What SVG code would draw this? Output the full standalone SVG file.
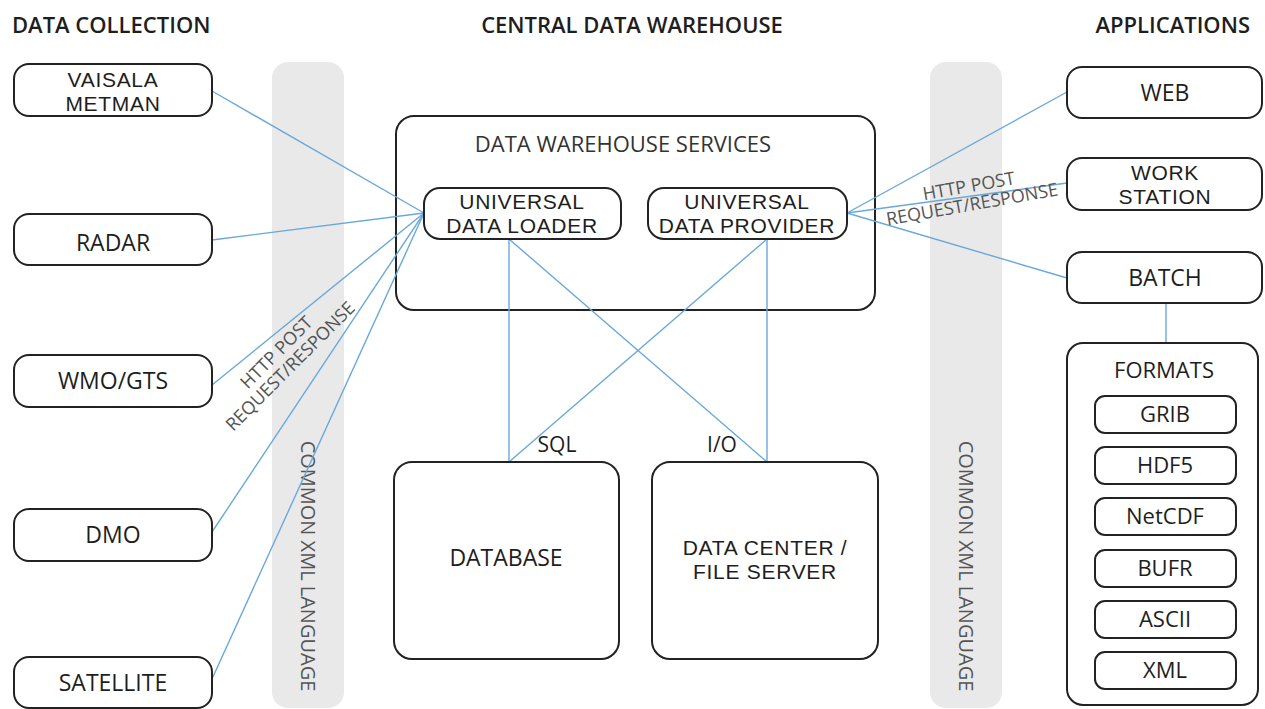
<svg xmlns="http://www.w3.org/2000/svg" width="1265" height="709" viewBox="0 0 1265 709">
<style>
text{font-family:"Open Sans","Noto Sans","Liberation Sans",sans-serif;fill:#1e1e1e}
.hdr{font-size:22px;font-weight:600}
.lbl{font-size:23px;text-anchor:middle}
.lbl2{font-family:"Liberation Sans",Arial,sans-serif;font-size:21px;letter-spacing:0.7px;text-anchor:middle}
.fmt{font-size:22px;text-anchor:middle}
.sub{font-size:18px;text-anchor:middle;fill:#555}
.band{fill:#e9e9e9}
.bandtxt{font-size:20px;text-anchor:middle;fill:#555}
.node{fill:#fff;stroke:#222;stroke-width:2}
.conn{stroke:#6aa8dc;stroke-width:1.4;fill:none}
</style>
<rect width="1265" height="709" fill="#fff"/>
<g id="headers">
<text class="hdr" x="12" y="33">DATA COLLECTION</text>
<text class="hdr" x="632" y="33" text-anchor="middle">CENTRAL DATA WAREHOUSE</text>
<text class="hdr" x="1250" y="33" text-anchor="end">APPLICATIONS</text>
</g>
<g id="xml-band-left">
<rect class="band" x="272" y="62" width="72" height="646" rx="16"/>
<text class="bandtxt" transform="translate(308,566) rotate(90)" x="0" y="7">COMMON XML LANGUAGE</text>
</g>
<g id="xml-band-right">
<rect class="band" x="930" y="62" width="72" height="646" rx="16"/>
<text class="bandtxt" transform="translate(966,566) rotate(90)" x="0" y="7">COMMON XML LANGUAGE</text>
</g>
<g id="dw-services">
<rect class="node" x="396" y="116" width="479" height="194" rx="18"/>
<text x="623" y="152" text-anchor="middle" style="font-size:22px;fill:#333">DATA WAREHOUSE SERVICES</text>
</g>
<g id="connectors">
<line class="conn" x1="212" y1="91" x2="424" y2="213"/>
<line class="conn" x1="212" y1="240" x2="424" y2="213"/>
<line class="conn" x1="212" y1="385" x2="424" y2="213"/>
<line class="conn" x1="212" y1="532" x2="424" y2="213"/>
<line class="conn" x1="212" y1="679" x2="424" y2="213"/>
<line class="conn" x1="847" y1="213" x2="1067" y2="92"/>
<line class="conn" x1="847" y1="213" x2="1067" y2="183"/>
<line class="conn" x1="847" y1="213" x2="1067" y2="278"/>
<line class="conn" x1="1166" y1="303" x2="1166" y2="343"/>
<line class="conn" x1="509" y1="239" x2="509" y2="462"/>
<line class="conn" x1="509" y1="239" x2="767" y2="462"/>
<line class="conn" x1="767" y1="239" x2="767" y2="462"/>
<line class="conn" x1="767" y1="239" x2="509" y2="462"/>
</g>
<g id="conn-labels">
<text class="sub" transform="translate(290,366) rotate(-45)"><tspan x="0" y="-13">HTTP POST</tspan><tspan x="0" y="6.5">REQUEST/RESPONSE</tspan></text>
<text class="sub" transform="translate(972,204) rotate(-10)"><tspan x="0" y="-12">HTTP POST</tspan><tspan x="0" y="6.5">REQUEST/RESPONSE</tspan></text>
<text x="557" y="452" text-anchor="middle" style="font-size:21px">SQL</text>
<text x="722" y="452" text-anchor="middle" style="font-size:21px">I/O</text>
</g>
<g id="vaisala">
<rect class="node" x="14" y="64" width="198" height="52" rx="15"/>
<text class="lbl2"><tspan x="113" y="87">VAISALA</tspan><tspan x="113" y="111">METMAN</tspan></text>
</g>
<g id="radar">
<rect class="node" x="14" y="214" width="198" height="51" rx="15"/>
<text class="lbl" x="113" y="251">RADAR</text>
</g>
<g id="wmo-gts">
<rect class="node" x="14" y="355" width="198" height="52" rx="15"/>
<text class="lbl" x="113" y="389">WMO/GTS</text>
</g>
<g id="dmo">
<rect class="node" x="14" y="509" width="198" height="52" rx="15"/>
<text class="lbl" x="113" y="543">DMO</text>
</g>
<g id="satellite">
<rect class="node" x="14" y="657" width="198" height="51" rx="15"/>
<text class="lbl" x="113" y="691">SATELLITE</text>
</g>
<g id="universal-data-loader">
<rect class="node" x="424" y="188" width="197" height="51" rx="16"/>
<text class="lbl2"><tspan x="522" y="209">UNIVERSAL</tspan><tspan x="522" y="233">DATA LOADER</tspan></text>
</g>
<g id="universal-data-provider">
<rect class="node" x="648" y="188" width="199" height="51" rx="16"/>
<text class="lbl2"><tspan x="747" y="209">UNIVERSAL</tspan><tspan x="747" y="233">DATA PROVIDER</tspan></text>
</g>
<g id="database">
<rect class="node" x="394" y="462" width="225" height="197" rx="18"/>
<text class="lbl" x="506" y="566">DATABASE</text>
</g>
<g id="data-center">
<rect class="node" x="652" y="462" width="226" height="197" rx="18"/>
<text class="lbl2"><tspan x="765" y="555">DATA CENTER /</tspan><tspan x="765" y="579">FILE SERVER</tspan></text>
</g>
<g id="web">
<rect class="node" x="1067" y="67" width="195" height="51" rx="15"/>
<text class="lbl" x="1165" y="101">WEB</text>
</g>
<g id="workstation">
<rect class="node" x="1067" y="158" width="195" height="52" rx="15"/>
<text class="lbl2"><tspan x="1165" y="180">WORK</tspan><tspan x="1165" y="204">STATION</tspan></text>
</g>
<g id="batch">
<rect class="node" x="1067" y="252" width="195" height="51" rx="15"/>
<text class="lbl" x="1165" y="286">BATCH</text>
</g>
<g id="formats">
<rect class="node" x="1067" y="343" width="191" height="362" rx="16"/>
<text class="fmt" x="1164" y="378">FORMATS</text>
</g>
<g id="grib"><rect class="node" x="1095" y="396" width="141" height="37" rx="10"/><text class="fmt" x="1165" y="422">GRIB</text></g>
<g id="hdf5"><rect class="node" x="1095" y="447" width="141" height="37" rx="10"/><text class="fmt" x="1165" y="473">HDF5</text></g>
<g id="netcdf"><rect class="node" x="1095" y="498" width="141" height="37" rx="10"/><text class="fmt" x="1165" y="524">NetCDF</text></g>
<g id="bufr"><rect class="node" x="1095" y="550" width="141" height="37" rx="10"/><text class="fmt" x="1165" y="576">BUFR</text></g>
<g id="ascii"><rect class="node" x="1095" y="601" width="141" height="37" rx="10"/><text class="fmt" x="1165" y="627">ASCII</text></g>
<g id="xml"><rect class="node" x="1095" y="652" width="141" height="37" rx="10"/><text class="fmt" x="1165" y="678">XML</text></g>
</svg>
